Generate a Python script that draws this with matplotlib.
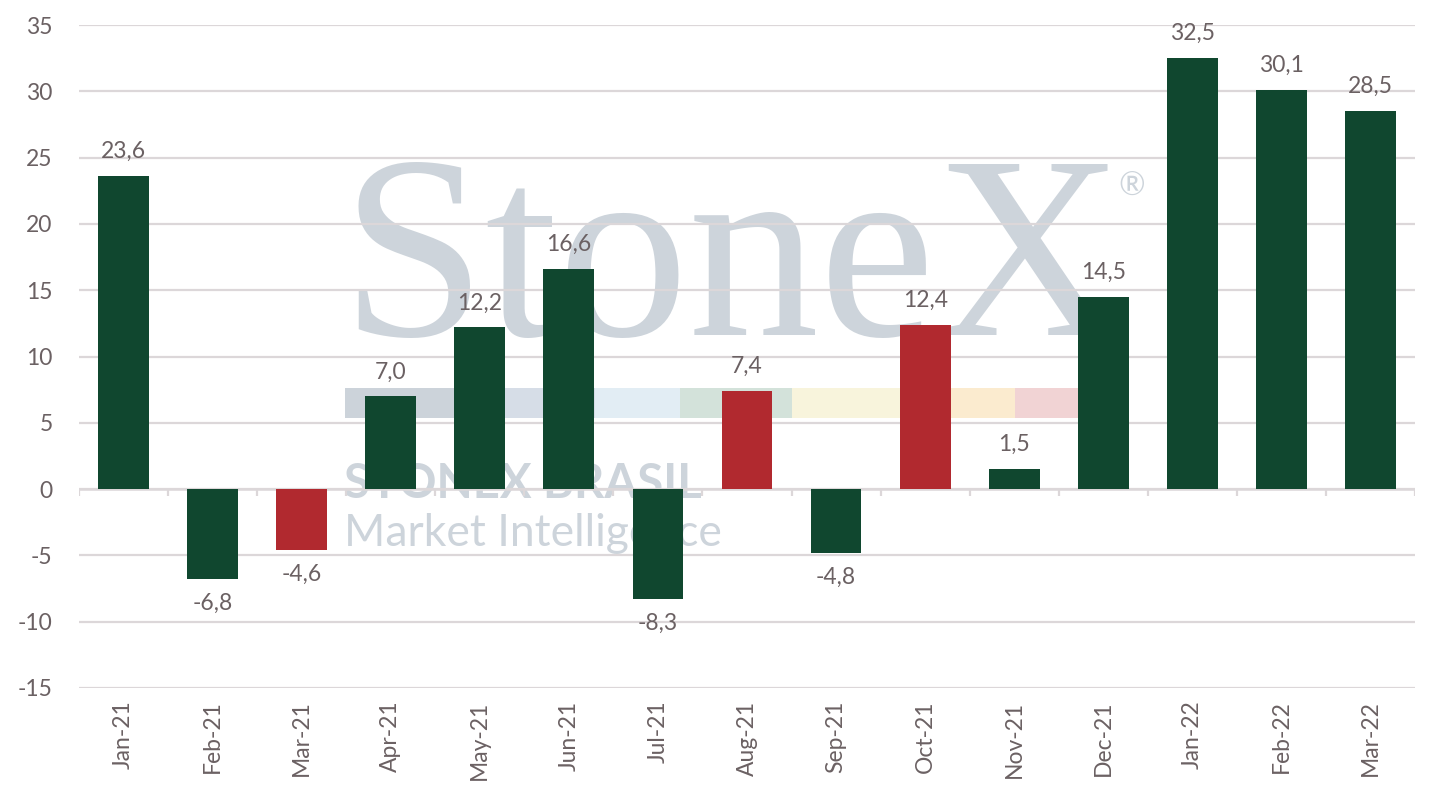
import matplotlib.pyplot as plt
import numpy as np

plt.rcParams['axes.unicode_minus'] = False
plt.rcParams['font.family'] = ['Lato', 'DejaVu Sans']

months = ["Jan-21", "Feb-21", "Mar-21", "Apr-21", "May-21", "Jun-21", "Jul-21", "Aug-21",
          "Sep-21", "Oct-21", "Nov-21", "Dec-21", "Jan-22", "Feb-22", "Mar-22"]
values = [23.6, -6.8, -4.6, 7.0, 12.2, 16.6, -8.3, 7.4, -4.8, 12.4, 1.5, 14.5, 32.5, 30.1, 28.5]
red_months = ["Mar-21", "Aug-21", "Oct-21"]

green = "#10472f"
red = "#b1292f"
txt = "#6b6163"
grid = "#dcd7d9"
wm = "#cdd4db"

fig = plt.figure(figsize=(14.38, 8.08), dpi=100)
ax = fig.add_axes([79/1438, 120/808, 1336/1438, 663/808])

x = np.arange(len(months))
colors = [red if m in red_months else green for m in months]
bars = ax.bar(x, values, width=0.57, color=colors, zorder=3)

ax.set_xlim(-0.5, len(months) - 0.5)
ax.set_ylim(-15, 35)
ax.set_yticks(np.arange(-15, 40, 5))
ax.set_yticklabels([str(v) for v in range(-15, 40, 5)])
ax.grid(axis='y', color=grid, linewidth=1.6, zorder=1)
ax.set_axisbelow(True)
for s in ax.spines.values():
    s.set_visible(False)

ax.tick_params(axis='y', length=0, pad=19, labelsize=16.5, labelcolor=txt)
ax.set_xticks(x)
ax.set_xticklabels(months, rotation=90, fontsize=16.5, color=txt)
ax.tick_params(axis='x', length=0, pad=9)

# zero line with category boundary ticks
ax.axhline(0, color=grid, linewidth=1.8, zorder=2)
ax.vlines(np.arange(len(months) + 1) - 0.5, -0.55, 0, color=grid, linewidth=1.6, zorder=2)

# data labels
for xi, v in zip(x, values):
    lab = ("%.1f" % v).replace(".", ",")
    if v >= 0:
        ax.annotate(lab, (xi, v), xytext=(0, 10), textcoords='offset points',
                    ha='center', va='bottom', fontsize=16.5, color=txt)
    else:
        ax.annotate(lab, (xi, v), xytext=(0, -10), textcoords='offset points',
                    ha='center', va='top', fontsize=16.5, color=txt)

# watermark
ax.text(0.196, 0.532, "StoneX", transform=ax.transAxes, family='Liberation Serif',
        fontsize=188, color=wm, va='baseline', ha='left', zorder=0)
ax.text(0.778, 0.742, "®", transform=ax.transAxes, fontsize=23, color=wm,
        va='baseline', ha='left', zorder=0)
stripe = [("#ccd3da", 345, 505), ("#d6dde7", 505, 595), ("#e2edf4", 595, 680),
          ("#d3e2da", 680, 792), ("#f8f4dc", 792, 902), ("#fbebcf", 902, 1015),
          ("#f1d3d4", 1015, 1080)]
for c, x0, x1 in stripe:
    ax.add_patch(plt.Rectangle(((x0 - 79) / 1336, (688 - 418) / 663),
                               (x1 - x0) / 1336, 30 / 663, transform=ax.transAxes,
                               color=c, zorder=0, linewidth=0))
ax.text(0.198, (688 - 498) / 663, "STONEX BRASIL", transform=ax.transAxes,
        fontsize=34, fontweight='bold', color=wm, va='baseline', ha='left', zorder=0)
ax.text(0.198, (688 - 546) / 663, "Market Intelligence", transform=ax.transAxes,
        fontsize=32, color=wm, va='baseline', ha='left', zorder=0)

fig.savefig("out.png", dpi=100)
